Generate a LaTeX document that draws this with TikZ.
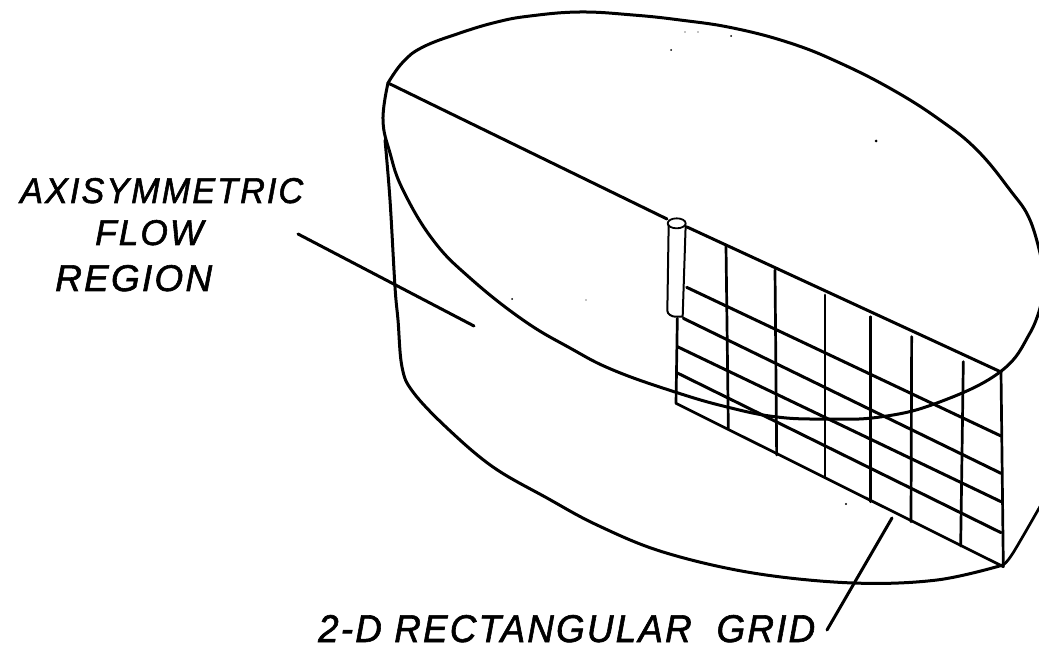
\documentclass[tikz,border=0pt]{standalone}
\usepackage{graphicx}
\usepackage{fontspec}
\setmainfont{Liberation Sans}
\newfontfamily\letterfont[LetterSpace=6,FakeBold=1.6]{Liberation Sans Italic}
\tikzset{
  ink/.style={line width=3pt,line cap=round,line join=round,black},
  thinink/.style={line width=2.7pt,line cap=round,line join=round,black},
  lettering/.style={font=\letterfont\fontsize{34}{34}\selectfont,inner sep=0pt,anchor=base west,text=black},
  speck/.style={fill=black,draw=none}
}
\begin{document}
\begin{tikzpicture}[x=1pt,y=-1pt]
\useasboundingbox (0,0) rectangle (1039,652);
\clip (0,0) rectangle (1039,652);
% top rim and inner arc
\draw[ink] plot[smooth,tension=0.7] coordinates {(1042,262)(1030,220)(1010,190)(977,150)(940,120)(893,90)(840,63)(790,43)(733,28)(680,20)(633,15)(580,12)(530,16)(497,22)(460,33)(423,47)(403,62)(388,83)};
\draw[ink] plot[smooth,tension=0.7] coordinates {(388,83)(383,120)(390,153)(403,190)(433,240)(470,278)(523,320)(570,348)(613,370)(675,392)(727,407)(777,417)(827,419)(880,417)(937,403)(1000,372)(1030,333)(1042,300)};
% outer wall
\draw[ink] plot[smooth,tension=0.6] coordinates {(385,140)(390,200)(395,287)(398,320)(402,367)(413,392)(447,428)(493,467)(547,498)(597,525)(663,552)(753,573)(853,583)(937,580)(1003,565)};
\draw[thinink] plot[smooth,tension=0.6] coordinates {(1003,565)(1013,553)(1042,503)};
% diameter line
\coordinate (lineA) at (388,83);
\coordinate (lineB) at (667,219);
\coordinate (lineC) at (687,227);
\coordinate (lineD) at (1001,372);
\draw[ink] (lineA) -- (lineB);
\draw[ink] (lineC) -- (lineD);
% grid, in 3x crop coordinates
\begin{scope}[xshift=620pt,yshift=-190pt,x=0.33333pt,y=-0.33333pt]
  \draw[thinink] (318,168)--(325,715);
  \draw[thinink] (465,240)--(470,795);
  \draw[thinink] (615,315)--(615,862);
  \draw[thinink] (752,380)--(752,935);
  \draw[thinink] (875,440)--(873,995);
  \draw[thinink] (1030,515)--(1022,1068);
  \draw[ink] (200,292)--(1143,738);
  \draw[ink] (190,385)--(1143,850);
  \draw[ink] (172,470)--(1143,935);
  \draw[ink] (170,548)--(1143,1028);
  \draw[thinink] (172,385)--(168,640)--(1150,1130);
  \draw[thinink] (1143,545)--(1150,1130);
  % cylinder
  \draw[thinink,line width=1.8pt] (170,100) ellipse (27 and 15);
  \draw[thinink,line width=2pt] (146,105)--(142,362) .. controls (142,372) and (155,380) .. (165,380)--(188,380)--(197,105);
\end{scope}
% labels and leaders
\node[lettering] (axi) at (20,203) {\resizebox{283pt}{25pt}{AXISYMMETRIC}};
\node[lettering] (flow) at (95,245) {\resizebox{108pt}{25pt}{FLOW}};
\node[lettering] (reg) at (55,291) {\resizebox{157pt}{26pt}{REGION}};
\node[lettering] (grid) at (318,642) {\resizebox{497pt}{27pt}{2-D RECTANGULAR\ \ GRID}};
\coordinate (l1a) at (298,234);
\coordinate (l1b) at (474,326);
\coordinate (l2a) at (892,518);
\coordinate (l2b) at (827,630);
\draw[ink] (l1a) -- (l1b);
\draw[ink] (l2a) -- (l2b);
% specks
\foreach \p/\r in {{(876,141)}/1.5,{(671,50)}/1,{(731,36)}/1,{(685,32)}/.7,{(512,299)}/1,{(846,504)}/1.2,{(586,300)}/.6,{(698,32)}/.6}
  \fill[speck] \p circle (\r);
\end{tikzpicture}
\end{document}
